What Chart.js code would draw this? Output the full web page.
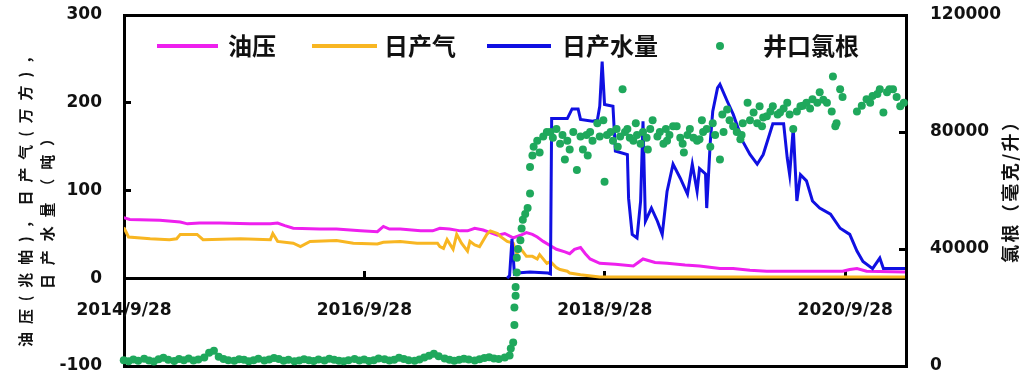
<!DOCTYPE html>
<html>
<head>
<meta charset="utf-8">
<script src="https://cdn.jsdelivr.net/npm/chart.js@4.4.1/dist/chart.umd.min.js"></script>
<style>
  html, body { margin: 0; padding: 0; background: #fff; }
  #wrap { position: relative; width: 1022px; height: 376px; background: #fff; overflow: hidden; }
  #c { position: absolute; left: 0; top: 0; z-index: 2; }
  .rule { position: absolute; background: #000; z-index: 1; }
</style>
</head>
<body>
<div id="wrap"><canvas id="c" width="1022" height="376"></canvas></div>
<script>
// ---- data (x = decimal year) ----
const tickYears = [2014.742, 2016.742, 2018.742, 2020.742];
const tickLabels = ['2014/9/28', '2016/9/28', '2018/9/28', '2020/9/28'];
const seriesNames = ['油压', '日产气', '日产水量', '井口氯根'];

const oilPressure = [
  [2014.74, 69], [2014.79, 67], [2015.04, 66], [2015.21, 64], [2015.27, 62], [2015.37, 63],
  [2015.54, 63], [2015.79, 62], [2015.96, 62], [2016.02, 63], [2016.08, 60], [2016.15, 57],
  [2016.37, 56], [2016.51, 56], [2016.71, 54], [2016.85, 53], [2016.90, 59], [2016.95, 56],
  [2017.04, 56], [2017.21, 54], [2017.31, 54], [2017.37, 57], [2017.45, 56], [2017.54, 54],
  [2017.60, 54], [2017.66, 57], [2017.73, 55], [2017.79, 52], [2017.85, 49], [2017.91, 51],
  [2017.98, 46], [2018.04, 49], [2018.09, 52], [2018.14, 50], [2018.18, 47], [2018.23, 42],
  [2018.29, 37], [2018.34, 33], [2018.41, 30], [2018.45, 28], [2018.49, 33], [2018.54, 35],
  [2018.58, 28], [2018.62, 22], [2018.70, 17], [2018.83, 16], [2018.98, 14], [2019.06, 22],
  [2019.16, 18], [2019.26, 17], [2019.41, 15], [2019.53, 14], [2019.70, 11], [2019.81, 11],
  [2019.95, 9], [2020.09, 8], [2020.37, 8], [2020.72, 8], [2020.78, 10], [2020.84, 11],
  [2020.92, 8], [2021.24, 7]
];

const gasRate = [
  [2014.74, 58], [2014.78, 47], [2014.96, 45], [2015.12, 44], [2015.18, 45], [2015.21, 50],
  [2015.35, 50], [2015.40, 44], [2015.71, 45], [2015.96, 44], [2015.98, 51], [2016.02, 42],
  [2016.15, 40], [2016.21, 36], [2016.29, 42], [2016.51, 43], [2016.65, 40], [2016.85, 39],
  [2016.90, 41], [2017.04, 42], [2017.18, 40], [2017.35, 40], [2017.37, 36], [2017.40, 34],
  [2017.43, 44], [2017.48, 33], [2017.51, 50], [2017.55, 40], [2017.60, 31], [2017.62, 42],
  [2017.66, 38], [2017.70, 36], [2017.76, 50], [2017.79, 54], [2017.85, 51], [2017.87, 48],
  [2017.93, 42], [2017.98, 40], [2018.01, 28], [2018.04, 34], [2018.09, 25], [2018.14, 25],
  [2018.18, 22], [2018.20, 27], [2018.26, 17], [2018.29, 19], [2018.34, 12], [2018.37, 10],
  [2018.43, 8], [2018.45, 6], [2018.54, 4], [2018.70, 1.5], [2021.24, 1.5]
];

const waterRate = [
  [2017.93, 0], [2017.95, 3], [2017.97, 45], [2017.99, 5],
  [2018.01, 6], [2018.12, 7], [2018.27, 6], [2018.29, 5], [2018.30, 182], [2018.43, 182],
  [2018.47, 193], [2018.52, 193], [2018.54, 181], [2018.64, 179], [2018.68, 180], [2018.70, 196],
  [2018.72, 247], [2018.74, 198], [2018.81, 196], [2018.83, 145], [2018.93, 141], [2018.94, 91],
  [2018.97, 50], [2019.01, 46], [2019.04, 88], [2019.06, 179], [2019.08, 65], [2019.13, 80],
  [2019.18, 65], [2019.22, 50], [2019.26, 99], [2019.31, 130], [2019.37, 114], [2019.43, 96],
  [2019.47, 130], [2019.51, 99], [2019.53, 125], [2019.58, 119], [2019.59, 80], [2019.62, 156],
  [2019.64, 190], [2019.68, 217], [2019.70, 221], [2019.76, 202], [2019.81, 187], [2019.89, 156],
  [2019.95, 141], [2020.01, 130], [2020.06, 141], [2020.14, 176], [2020.23, 176], [2020.26, 137],
  [2020.28, 118], [2020.31, 171], [2020.34, 88], [2020.37, 118], [2020.42, 111], [2020.47, 88],
  [2020.53, 80], [2020.62, 73], [2020.70, 57], [2020.78, 50], [2020.84, 31], [2020.89, 19],
  [2020.97, 11], [2021.03, 23], [2021.06, 11], [2021.24, 11]
];

const chloride = [
  [2014.74, 2000], [2014.78, 1600], [2014.82, 2200], [2014.86, 1800], [2014.91, 2500], [2014.95, 1900],
  [2014.99, 1500], [2015.03, 2300], [2015.07, 2800], [2015.11, 2100], [2015.16, 1700], [2015.20, 2400],
  [2015.24, 2000], [2015.28, 2600], [2015.32, 1900], [2015.36, 2200], [2015.41, 2900], [2015.45, 4500],
  [2015.49, 5200], [2015.53, 3200], [2015.57, 2400], [2015.61, 2000], [2015.66, 1800], [2015.70, 2300],
  [2015.74, 2100], [2015.78, 1600], [2015.82, 2000], [2015.86, 2500], [2015.91, 1900], [2015.95, 2200],
  [2015.99, 2700], [2016.03, 2400], [2016.07, 1800], [2016.11, 2100], [2016.16, 1600], [2016.20, 1900],
  [2016.24, 2300], [2016.28, 2000], [2016.32, 1700], [2016.36, 2200], [2016.41, 1900], [2016.45, 2500],
  [2016.49, 2100], [2016.53, 1800], [2016.57, 1600], [2016.61, 2000], [2016.66, 2400], [2016.70, 1900],
  [2016.74, 2200], [2016.78, 1700], [2016.82, 2000], [2016.86, 2600], [2016.91, 2300], [2016.95, 1900],
  [2016.99, 2100], [2017.03, 2800], [2017.07, 2400], [2017.11, 2000], [2017.16, 1800], [2017.20, 2200],
  [2017.24, 2900], [2017.28, 3500], [2017.32, 4200], [2017.36, 3300], [2017.41, 2600], [2017.45, 2100],
  [2017.49, 1800], [2017.53, 2100], [2017.57, 2500], [2017.61, 2200], [2017.66, 1900], [2017.70, 2300],
  [2017.74, 2700], [2017.78, 3000], [2017.82, 2600], [2017.86, 2400], [2017.91, 2900], [2017.95, 3600],
  [2017.96, 6000], [2017.98, 8000], [2017.99, 14000], [2017.99, 20000], [2018.00, 24000], [2018.00, 27000],
  [2018.01, 32000], [2018.01, 37000], [2018.02, 40000], [2018.04, 43000], [2018.05, 47000], [2018.06, 50000],
  [2018.08, 52000], [2018.10, 54000], [2018.12, 59000], [2018.12, 68000], [2018.14, 72000], [2018.15, 75000],
  [2018.18, 77000], [2018.20, 73000], [2018.23, 78500], [2018.26, 80000], [2018.29, 80000], [2018.31, 78000],
  [2018.34, 81000], [2018.37, 76000], [2018.39, 79000], [2018.41, 70600], [2018.43, 77000], [2018.45, 74000],
  [2018.48, 80000], [2018.51, 67000], [2018.54, 78500], [2018.56, 74000], [2018.59, 79000], [2018.60, 72000],
  [2018.62, 80000], [2018.64, 77000], [2018.68, 83000], [2018.70, 78500], [2018.73, 84000], [2018.74, 63000],
  [2018.76, 79000], [2018.79, 80000], [2018.81, 77000], [2018.84, 81000], [2018.85, 75000], [2018.87, 78500],
  [2018.89, 94600], [2018.91, 80000], [2018.93, 81000], [2018.95, 78000], [2018.98, 77000], [2019.00, 83000],
  [2019.01, 79000], [2019.04, 76000], [2019.06, 80000], [2019.09, 78000], [2019.10, 74000], [2019.12, 81000],
  [2019.14, 84000], [2019.18, 78500], [2019.20, 80000], [2019.23, 76000], [2019.25, 81000], [2019.26, 77000],
  [2019.28, 79000], [2019.31, 82000], [2019.34, 82000], [2019.37, 78000], [2019.39, 76000], [2019.40, 73000],
  [2019.43, 79000], [2019.45, 81000], [2019.48, 78000], [2019.51, 77000], [2019.53, 77500], [2019.55, 84000],
  [2019.56, 80000], [2019.59, 81000], [2019.62, 75000], [2019.64, 83000], [2019.66, 79000], [2019.70, 70600],
  [2019.72, 86000], [2019.73, 80000], [2019.76, 87700], [2019.78, 84000], [2019.81, 82000], [2019.84, 80000],
  [2019.87, 77500], [2019.88, 79000], [2019.89, 83000], [2019.93, 90000], [2019.95, 84000], [2019.98, 86700],
  [2020.01, 83000], [2020.03, 88800], [2020.05, 82000], [2020.06, 85000], [2020.09, 85400], [2020.12, 87000],
  [2020.14, 88800], [2020.18, 86000], [2020.20, 86700], [2020.23, 88000], [2020.26, 90000], [2020.28, 86000],
  [2020.31, 81000], [2020.34, 87000], [2020.37, 88800], [2020.39, 89000], [2020.42, 90000], [2020.45, 88000],
  [2020.47, 91200], [2020.51, 90000], [2020.53, 93600], [2020.56, 91000], [2020.59, 90000], [2020.63, 87000],
  [2020.64, 99000], [2020.66, 82000], [2020.67, 83000], [2020.70, 94600], [2020.72, 92000], [2020.84, 87000],
  [2020.88, 89000], [2020.92, 91200], [2020.95, 90000], [2020.97, 92300], [2021.01, 93000], [2021.03, 94600],
  [2021.06, 86700], [2021.09, 93600], [2021.11, 94600], [2021.14, 94600], [2021.17, 92000], [2021.20, 88800],
  [2021.23, 90000]
];

// ---- styling ----
const COLORS = { pressure: '#EE20EE', gas: '#F8B622', water: '#1010E2', chloride: '#1FA85C' };
const TICK_FONT = { family: 'DejaVu Sans', weight: 'bold', size: 17 };
const CJK = '"Noto Sans CJK SC", "Noto Sans", sans-serif';

function drawVerticalText(ctx, text, cx, cy, length, font) {
  ctx.save();
  ctx.font = font;
  ctx.fillStyle = '#111';
  const chars = Array.from(text);
  const widths = chars.map(c => ctx.measureText(c).width);
  const natural = widths.reduce((s, w) => s + w, 0);
  const gap = chars.length > 1 ? (length - natural) / (chars.length - 1) : 0;
  ctx.translate(cx, cy);
  ctx.rotate(-Math.PI / 2);
  ctx.textBaseline = 'middle';
  ctx.textAlign = 'left';
  let x = -length / 2;
  chars.forEach((c, i) => { ctx.fillText(c, x, 0); x += widths[i] + gap; });
  ctx.restore();
}

// legend row inside the plot and the axis titles
const legendLayout = [
  { kind: 'line', x0: 157, x1: 218, tx: 228 },
  { kind: 'line', x0: 312, x1: 377, tx: 384 },
  { kind: 'line', x0: 487, x1: 551, tx: 562 },
  { kind: 'dot', x0: 720, x1: 720, tx: 763 }
];
const legendColors = [COLORS.pressure, COLORS.gas, COLORS.water, COLORS.chloride];

const annotatePlugin = {
  id: 'annotate',
  afterDraw(chart) {
    const { ctx } = chart;
    ctx.save();
    const ly = 46;
    legendLayout.forEach((it, i) => {
      ctx.fillStyle = legendColors[i];
      if (it.kind === 'line') {
        ctx.fillRect(it.x0, ly - 2, it.x1 - it.x0, 4);
      } else {
        ctx.beginPath(); ctx.arc(it.x0, ly, 4, 0, Math.PI * 2); ctx.fill();
      }
      ctx.fillStyle = '#111';
      ctx.font = 'bold 24px ' + CJK;
      ctx.textBaseline = 'middle';
      ctx.textAlign = 'left';
      ctx.fillText(seriesNames[i], it.tx, ly);
    });
    ctx.restore();
    drawVerticalText(ctx, '油压(兆帕)，日产气(万方)，', 25, 198, 298, 'bold 15px ' + CJK);
    drawVerticalText(ctx, '日产水量（吨）', 47, 210, 158, 'bold 15px ' + CJK);
    drawVerticalText(ctx, '氯根（毫克/升）', 1010, 188, 150, 'bold 18px ' + CJK);
  }
};

// fixed axis widths; no extra label overhang so the plot box keeps its size
function fixVertical(width) {
  return s => { s.width = width; s.paddingTop = 0; s.paddingBottom = 0; };
}

const chart = new Chart(document.getElementById('c'), {
  type: 'line',
  data: {
    datasets: [
      { type: 'scatter', label: seriesNames[3], data: chloride, yAxisID: 'y1', order: 0,
        pointRadius: 4, pointHoverRadius: 4, pointBorderWidth: 0,
        pointBackgroundColor: COLORS.chloride, backgroundColor: COLORS.chloride, showLine: false, clip: false },
      { label: seriesNames[2], data: waterRate, yAxisID: 'y', order: 1,
        borderColor: COLORS.water, borderWidth: 3, pointRadius: 0, tension: 0, fill: false },
      { label: seriesNames[1], data: gasRate, yAxisID: 'y', order: 2,
        borderColor: COLORS.gas, borderWidth: 3, pointRadius: 0, tension: 0, fill: false },
      { label: seriesNames[0], data: oilPressure, yAxisID: 'y', order: 3,
        borderColor: COLORS.pressure, borderWidth: 3, pointRadius: 0, tension: 0, fill: false }
    ]
  },
  options: {
    responsive: false,
    animation: false,
    events: [],
    layout: { padding: { left: 0, right: 0, top: 15, bottom: 10 } },
    plugins: { legend: { display: false }, tooltip: { enabled: false } },
    scales: {
      x: {
        type: 'linear',
        position: { y: 0 },
        min: 2014.742,
        max: 2021.248,
        grid: { display: false },
        border: { display: false },
        afterBuildTicks: s => { s.ticks = tickYears.map(v => ({ value: v })); },
        afterFit: s => { s.paddingLeft = 0; s.paddingRight = 0; },
        ticks: {
          autoSkip: false, maxRotation: 0, padding: 14, color: '#111', font: TICK_FONT,
          callback: (v, i) => tickLabels[i]
        }
      },
      y: {
        position: 'left',
        min: -100, max: 300,
        grid: { display: false },
        border: { display: false },
        afterFit: fixVertical(124),
        ticks: { stepSize: 100, padding: 14, color: '#111', font: TICK_FONT, callback: v => String(v) }
      },
      y1: {
        position: 'right',
        min: 0, max: 120000,
        grid: { display: false },
        border: { display: false },
        afterFit: fixVertical(116),
        ticks: { stepSize: 40000, padding: 16, color: '#111', font: TICK_FONT, callback: v => String(v) }
      }
    }
  },
  plugins: [annotatePlugin]
});

// Axis box, zero line and inward ticks as black rules behind the transparent canvas,
// placed from the chart's own scales so the series paint over them.
(function drawRules() {
  const wrap = document.getElementById('wrap');
  const { x: sx, y: sy, y1: sy1 } = chart.scales;
  const pick = (v, d) => (Number.isFinite(v) ? v : d);
  const L = pick(sx.getPixelForValue(2014.742), 124);
  const R = pick(sx.getPixelForValue(2021.248), 906);
  const T = pick(sy.getPixelForValue(300), 15);
  const B = pick(sy.getPixelForValue(-100), 366);
  const y0 = pick(sy.getPixelForValue(0), 278);
  const rule = (x, y, w, h) => {
    const d = document.createElement('div');
    d.className = 'rule';
    d.style.left = x + 'px'; d.style.top = y + 'px';
    d.style.width = w + 'px'; d.style.height = h + 'px';
    wrap.appendChild(d);
  };
  const t = 3, h = t / 2;
  rule(L - h, T - h, R - L + t, t);          // top
  rule(L - h, B - h, R - L + t, t);          // bottom
  rule(L - h, T - h, t, B - T + t);          // left
  rule(R - h, T - h, t, B - T + t);          // right
  rule(L - h, y0 - 1.75, R - L + t, 3.5);    // zero line
  [100, 200].forEach(v => rule(L, pick(sy.getPixelForValue(v), 0) - h, 7, t));
  [40000, 80000].forEach(v => rule(R - 7, pick(sy1.getPixelForValue(v), 0) - h, 7, t));
  tickYears.slice(1).forEach(v => rule(pick(sx.getPixelForValue(v), 0) - h, y0 - 7, t, 6));
})();
</script>
</body>
</html>
